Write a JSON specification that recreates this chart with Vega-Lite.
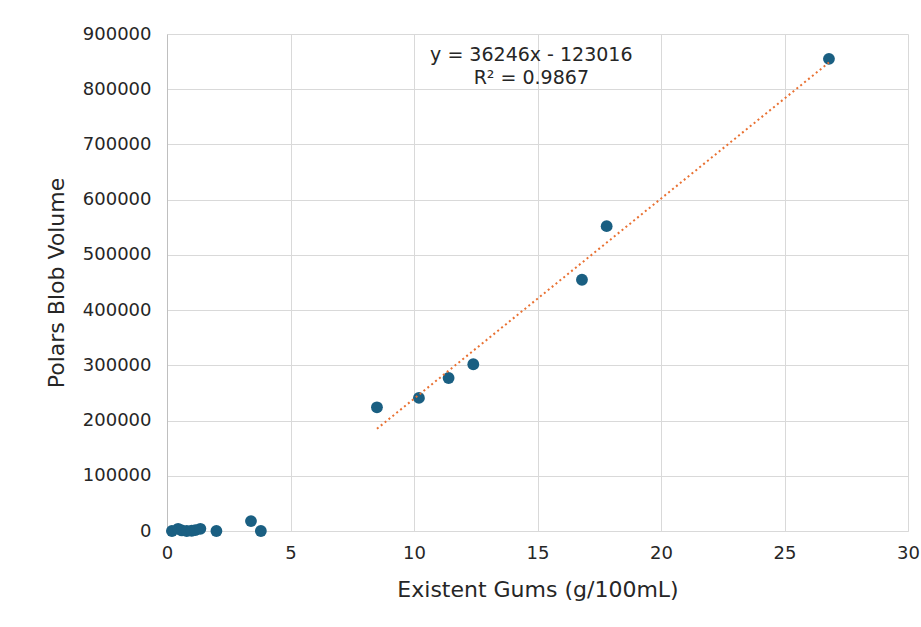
{
  "$schema": "https://vega.github.io/schema/vega-lite/v6.json",
  "width": 741,
  "height": 497,
  "autosize": "none",
  "padding": {"left": 167, "top": 34, "right": 13, "bottom": 96},
  "background": "white",
  "config": {
    "font": "DejaVu Sans",
    "view": {"stroke": null},
    "axis": {
      "labelFont": "DejaVu Sans",
      "titleFont": "DejaVu Sans",
      "labelColor": "#262626",
      "titleColor": "#262626",
      "labelFontSize": 18,
      "titleFontSize": 22,
      "titleFontWeight": "normal",
      "gridColor": "#d9d9d9",
      "gridWidth": 1,
      "ticks": false
    }
  },
  "layer": [
    {
      "data": {"values": [
        {"gums": 0.2, "volume": 0},
        {"gums": 0.45, "volume": 4000},
        {"gums": 0.6, "volume": 1000},
        {"gums": 0.8, "volume": 0},
        {"gums": 1.0, "volume": 500},
        {"gums": 1.15, "volume": 1500},
        {"gums": 1.35, "volume": 4000},
        {"gums": 2.0, "volume": 0},
        {"gums": 3.4, "volume": 18000},
        {"gums": 3.8, "volume": 0},
        {"gums": 8.5, "volume": 224000},
        {"gums": 10.2, "volume": 241000},
        {"gums": 11.4, "volume": 277000},
        {"gums": 12.4, "volume": 302000},
        {"gums": 16.8, "volume": 455000},
        {"gums": 17.8, "volume": 552000},
        {"gums": 26.8, "volume": 855000}
      ]},
      "mark": {"type": "point", "filled": true, "size": 140, "color": "#1a5f82", "opacity": 1},
      "encoding": {
        "x": {"field": "gums", "type": "quantitative", "scale": {"domain": [0, 30], "nice": false},
          "axis": {"title": "Existent Gums (g/100mL)", "values": [0,5,10,15,20,25,30], "labelPadding": 13, "titlePadding": 17, "domainColor": "#d9d9d9", "labelFlush": false}},
        "y": {"field": "volume", "type": "quantitative", "scale": {"domain": [0, 900000], "nice": false},
          "axis": {"title": "Polars Blob Volume", "tickCount": 9, "format": "d", "labelPadding": 16, "titlePadding": 14, "domainColor": "#bfbfbf", "labelFlush": false}}
      }
    },
    {
      "data": {"values": [
        {"gums": 8.5, "volume": 185075},
        {"gums": 26.8, "volume": 848377}
      ]},
      "mark": {"type": "line", "color": "#e97132", "strokeWidth": 2, "strokeDash": [2, 3]},
      "encoding": {
        "x": {"field": "gums", "type": "quantitative"},
        "y": {"field": "volume", "type": "quantitative"}
      }
    },
    {
      "data": {"values": [
        {"gums": 14.75, "volume": 862000, "label": "y = 36246x - 123016"},
        {"gums": 14.75, "volume": 820000, "label": "R² = 0.9867"}
      ]},
      "mark": {"type": "text", "fontSize": 19, "color": "#262626", "align": "center", "baseline": "middle"},
      "encoding": {
        "x": {"field": "gums", "type": "quantitative"},
        "y": {"field": "volume", "type": "quantitative"},
        "text": {"field": "label"}
      }
    }
  ]
}
